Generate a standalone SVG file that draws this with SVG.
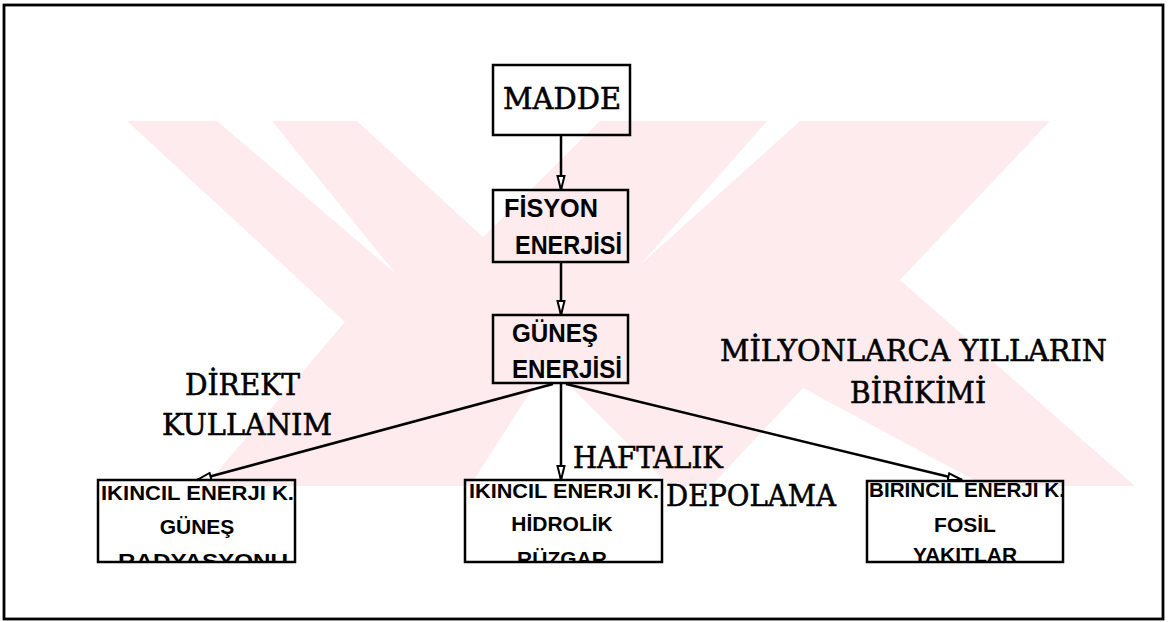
<svg xmlns="http://www.w3.org/2000/svg" width="1170" height="622" viewBox="0 0 1170 622">
<style>
.box{fill:none;stroke:#000;stroke-width:2.5}
.sr{font-family:"DejaVu Serif","Liberation Serif",serif;font-size:30px;fill:#000;stroke:#000;stroke-width:0.6}
.ss{font-family:"Liberation Sans",Arial,sans-serif;font-weight:bold;fill:#000}
.s26{font-size:26px}
.s21{font-size:21px}
.con{stroke:#000;stroke-width:2.5;fill:none}
.wm{fill:#fdebed}
.wmw{fill:#fff}
</style>
<defs>
<marker id="ah" markerUnits="userSpaceOnUse" markerWidth="16" markerHeight="10" refX="15" refY="5" orient="auto" viewBox="0 0 16 10">
<path d="M1,1.5 L15,5 L1,8.5 Z" fill="#fff" stroke="#000" stroke-width="2"/>
</marker>
<clipPath id="cL"><rect x="98" y="480" width="197" height="82"/></clipPath>
<clipPath id="cM"><rect x="465" y="480" width="197" height="82"/></clipPath>
<clipPath id="cR"><rect x="867" y="481" width="196" height="81"/></clipPath>
</defs>
<rect x="0" y="0" width="1170" height="622" fill="#fff"/>

<g id="watermark">
<polygon class="wm" points="127,121 357,121 575,322 470,486 205,486 345,322"/>
<polygon class="wm" points="600,121 1050,121 900,280 1135,486 670,486 452,268"/>
<polygon class="wmw" points="217,121 272,121 395,273"/>
<polygon class="wmw" points="767,121 800,121 640,265"/>
<polygon class="wmw" points="803,388 711,486 985,486"/>
</g>

<rect id="frame" x="4" y="5" width="1159" height="614" fill="none" stroke="#000" stroke-width="2.8"/>

<g id="connectors">
<line class="con" x1="561" y1="135" x2="561" y2="190" marker-end="url(#ah)"/>
<line class="con" x1="561" y1="262" x2="561" y2="315" marker-end="url(#ah)"/>
<line class="con" x1="561" y1="383" x2="561" y2="480" marker-end="url(#ah)"/>
<line class="con" x1="553" y1="384" x2="197" y2="480" marker-end="url(#ah)"/>
<line class="con" x1="566" y1="384" x2="962" y2="480" marker-end="url(#ah)"/>
</g>

<g id="madde">
<rect class="box" x="493" y="65" width="137" height="70"/>
<text class="sr" x="503" y="109" textLength="118" lengthAdjust="spacingAndGlyphs">MADDE</text>
</g>
<g id="fisyon">
<rect class="box" x="493" y="190" width="135" height="72"/>
<text class="ss s26" x="504" y="217" textLength="94" lengthAdjust="spacingAndGlyphs">FİSYON</text>
<text class="ss s26" x="515" y="254" textLength="107" lengthAdjust="spacingAndGlyphs">ENERJİSİ</text>
</g>
<g id="gunes">
<rect class="box" x="493" y="315" width="135" height="68"/>
<text class="ss s26" x="512" y="342" textLength="86" lengthAdjust="spacingAndGlyphs">GÜNEŞ</text>
<text class="ss s26" x="512" y="378" textLength="110" lengthAdjust="spacingAndGlyphs">ENERJİSİ</text>
</g>

<g id="box-left">
<rect class="box" x="98" y="480" width="197" height="82"/>
<g clip-path="url(#cL)">
<text class="ss s21" x="101" y="500" textLength="193" lengthAdjust="spacingAndGlyphs">IKINCIL ENERJI K.</text>
<text class="ss s21" x="197" y="534" text-anchor="middle">GÜNEŞ</text>
<text class="ss s21" x="118" y="568" textLength="170" lengthAdjust="spacingAndGlyphs">RADYASYONU</text>
</g>
</g>
<g id="box-mid">
<rect class="box" x="465" y="480" width="197" height="82"/>
<g clip-path="url(#cM)">
<text class="ss s21" x="469" y="498" textLength="190" lengthAdjust="spacingAndGlyphs">IKINCIL ENERJI K.</text>
<text class="ss s21" x="562" y="531" text-anchor="middle">HİDROLİK</text>
<text class="ss s21" x="562" y="566" text-anchor="middle">RÜZGAR</text>
</g>
</g>
<g id="box-right">
<rect class="box" x="867" y="481" width="196" height="81"/>
<text class="ss s21" x="869" y="497" textLength="196" lengthAdjust="spacingAndGlyphs">BİRİNCİL ENERJI K.</text>
<g clip-path="url(#cR)">
<text class="ss s21" x="965" y="532" text-anchor="middle">FOSİL</text>
<text class="ss s21" x="965" y="562" text-anchor="middle">YAKITLAR</text>
</g>
</g>

<g id="labels">
<text class="sr" x="185" y="395" textLength="115" lengthAdjust="spacingAndGlyphs">DİREKT</text>
<text class="sr" x="162" y="435" textLength="170" lengthAdjust="spacingAndGlyphs">KULLANIM</text>
<text class="sr" x="720" y="361" textLength="387" lengthAdjust="spacingAndGlyphs">MİLYONLARCA YILLARIN</text>
<text class="sr" x="850" y="403" textLength="136" lengthAdjust="spacingAndGlyphs">BİRİKİMİ</text>
<text class="sr" x="573" y="468" textLength="150" lengthAdjust="spacingAndGlyphs">HAFTALIK</text>
<text class="sr" x="666" y="506" textLength="170" lengthAdjust="spacingAndGlyphs">DEPOLAMA</text>
</g>
</svg>
